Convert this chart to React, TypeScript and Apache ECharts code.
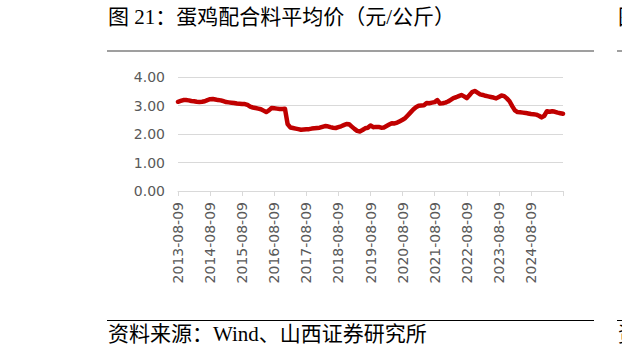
import React, { useEffect, useRef } from "react";
import * as echarts from "echarts";

const startYear = 2013;
const startMonth = 8;
const monthCount = 145;

const categories: string[] = Array.from({ length: monthCount }, (_, i) => {
  const total = startMonth - 1 + i;
  const y = startYear + Math.floor(total / 12);
  const m = (total % 12) + 1;
  return `${y}-${String(m).padStart(2, "0")}-09`;
});

const priceValues: number[] = [
  3.13, 3.16, 3.19, 3.19, 3.18, 3.16, 3.15, 3.13, 3.12, 3.13, 3.15, 3.19,
  3.22, 3.23, 3.21, 3.19, 3.18, 3.15, 3.12, 3.11, 3.10, 3.09, 3.07, 3.06,
  3.05, 3.05, 3.02, 2.96, 2.93, 2.91, 2.89, 2.87, 2.82, 2.77, 2.83, 2.91,
  2.90, 2.89, 2.88, 2.88, 2.89, 2.35, 2.23, 2.21, 2.19, 2.17, 2.15, 2.16,
  2.17, 2.17, 2.19, 2.20, 2.21, 2.22, 2.25, 2.28, 2.27, 2.24, 2.22, 2.21,
  2.24, 2.27, 2.31, 2.35, 2.34, 2.26, 2.18, 2.11, 2.09, 2.14, 2.20, 2.22,
  2.30, 2.24, 2.25, 2.25, 2.22, 2.23, 2.28, 2.33, 2.38, 2.37, 2.40, 2.45,
  2.50, 2.56, 2.66, 2.76, 2.86, 2.94, 2.99, 3.00, 3.01, 3.09, 3.08, 3.10,
  3.12, 3.19, 3.07, 3.08, 3.10, 3.14, 3.20, 3.26, 3.29, 3.33, 3.37, 3.32,
  3.26, 3.36, 3.47, 3.51, 3.45, 3.39, 3.37, 3.34, 3.32, 3.30, 3.28, 3.25,
  3.30, 3.35, 3.33, 3.25, 3.15, 2.98, 2.83, 2.77, 2.76, 2.75, 2.74, 2.72,
  2.70, 2.69, 2.68, 2.64, 2.58, 2.64, 2.80, 2.78, 2.80, 2.78, 2.75, 2.73,
  2.71,
];

const yTicks = [0, 1, 2, 3, 4];

const titleText = "图 21：蛋鸡配合料平均价（元/公斤）";
const sourceText = "资料来源：Wind、山西证券研究所";

const textFont = "'Liberation Serif', 'Noto Sans CJK SC', serif";
const axisFont = "'DejaVu Sans', sans-serif";

export default function App() {
  const ref = useRef<HTMLDivElement>(null);
  useEffect(() => {
    if (!ref.current) return;
    const chart = echarts.init(ref.current, null, { renderer: "svg" });
    chart.setOption({
      animation: false,
      backgroundColor: "#ffffff",
      grid: { left: 178, right: 59, top: 77, bottom: 168 },
      xAxis: {
        type: "category",
        data: categories,
        boundaryGap: false,
        axisLine: { lineStyle: { color: "#D9D9D9", width: 1 } },
        axisTick: {
          show: true,
          length: 5,
          interval: (index: number) => index % 12 === 0,
          lineStyle: { color: "#D9D9D9" },
        },
        axisLabel: {
          rotate: 90,
          margin: 11,
          color: "#595959",
          fontSize: 14,
          fontFamily: axisFont,
          interval: (index: number) => index % 12 === 0 && index < monthCount - 1,
        },
        splitLine: { show: false },
      },
      yAxis: {
        type: "value",
        min: yTicks[0],
        max: yTicks[yTicks.length - 1],
        interval: 1,
        axisLine: { show: false },
        axisTick: { show: false },
        axisLabel: {
          margin: 13,
          color: "#595959",
          fontSize: 14,
          fontFamily: axisFont,
          formatter: (v: number) => v.toFixed(2),
        },
        splitLine: { lineStyle: { color: "#D9D9D9", width: 1 } },
      },
      series: [
        {
          type: "line",
          data: priceValues,
          showSymbol: false,
          symbol: "none",
          lineStyle: { color: "#C00000", width: 4.5, join: "round", cap: "round" },
          itemStyle: { color: "#C00000" },
        },
      ],
      graphic: [
        {
          type: "text",
          left: 108,
          top: 6,
          style: { text: titleText, fontSize: 21, fontFamily: textFont, fill: "#000000" },
        },
        {
          type: "line",
          shape: { x1: 107, y1: 51, x2: 594, y2: 51 },
          style: { stroke: "#7F7F7F", lineWidth: 1.5 },
        },
        {
          type: "line",
          shape: { x1: 617, y1: 51, x2: 622, y2: 51 },
          style: { stroke: "#7F7F7F", lineWidth: 1.5 },
        },
        {
          type: "text",
          left: 618,
          top: 6,
          style: { text: "图", fontSize: 21, fontFamily: textFont, fill: "#000000" },
        },
        {
          type: "line",
          shape: { x1: 107, y1: 320.5, x2: 594, y2: 320.5 },
          style: { stroke: "#000000", lineWidth: 1 },
        },
        {
          type: "line",
          shape: { x1: 617, y1: 320.5, x2: 622, y2: 320.5 },
          style: { stroke: "#000000", lineWidth: 1 },
        },
        {
          type: "text",
          left: 108,
          top: 323,
          style: { text: sourceText, fontSize: 21, fontFamily: textFont, fill: "#000000" },
        },
        {
          type: "text",
          left: 618,
          top: 323,
          style: { text: "资", fontSize: 21, fontFamily: textFont, fill: "#000000" },
        },
      ],
    });
    return () => chart.dispose();
  }, []);
  return (
    <div
      ref={ref}
      style={{ position: "fixed", left: 0, top: 0, width: 622, height: 359 }}
    />
  );
}
